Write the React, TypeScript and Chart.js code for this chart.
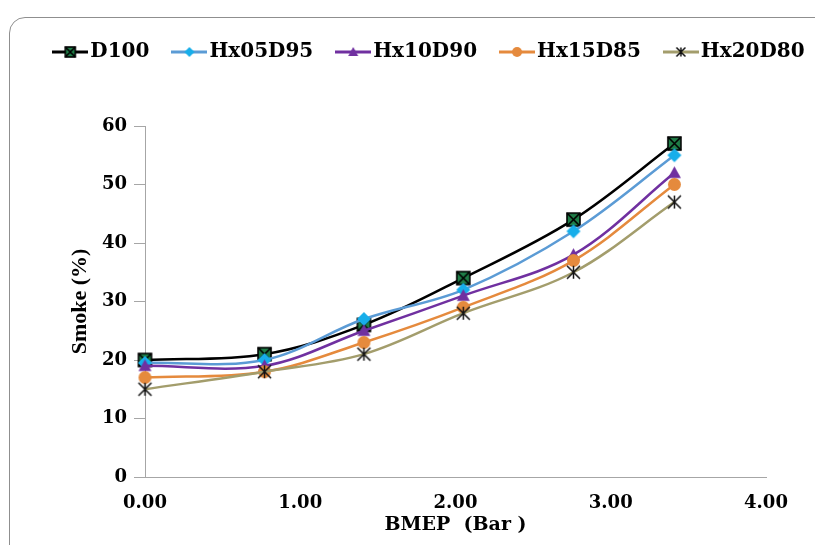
import React, { useEffect, useRef } from "react";
import { Chart, registerables } from "chart.js";

Chart.register(...registerables);

// ---- data ----
const bmep = [0, 0.77, 1.41, 2.05, 2.76, 3.41];
const d100 = [20, 21, 26, 34, 44, 57];
const hx05d95 = [19.5, 20, 27, 32, 42, 55];
const hx10d90 = [19, 19, 25, 31, 38, 52];
const hx15d85 = [17, 18, 23, 29, 37, 50];
const hx20d80 = [15, 18, 21, 28, 35, 47];
const seriesNames = ["D100", "Hx05D95", "Hx10D90", "Hx15D85", "Hx20D80"];
const xTickValues = [0, 1, 2, 3, 4];
const yTickValues = [0, 10, 20, 30, 40, 50, 60];
const xTitle = "BMEP  (Bar )";
const yTitle = "Smoke (%)";

const seriesValues = [d100, hx05d95, hx10d90, hx15d85, hx20d80];
const lineColors = ["#000000", "#5b9bd5", "#7030a0", "#e58a3d", "#a39d6c"];
const markerKinds = ["squareX", "diamond", "triangle", "circle", "star"];

const SERIF = '"DejaVu Serif", serif';
const AXIS_GRAY = "#a6a6a6";

function drawMarker(ctx: CanvasRenderingContext2D, kind: string, cx: number, cy: number, s: number) {
  const h = s / 2;
  ctx.save();
  switch (kind) {
    case "squareX":
      ctx.fillStyle = "#1f7d47";
      ctx.fillRect(cx - h, cy - h, s, s);
      ctx.strokeStyle = "#000";
      ctx.lineWidth = 1.6;
      ctx.strokeRect(cx - h, cy - h, s, s);
      ctx.beginPath();
      ctx.moveTo(cx - h, cy - h);
      ctx.lineTo(cx + h, cy + h);
      ctx.moveTo(cx + h, cy - h);
      ctx.lineTo(cx - h, cy + h);
      ctx.stroke();
      break;
    case "diamond":
      ctx.fillStyle = "#17aeea";
      ctx.beginPath();
      ctx.moveTo(cx, cy - h);
      ctx.lineTo(cx + h, cy);
      ctx.lineTo(cx, cy + h);
      ctx.lineTo(cx - h, cy);
      ctx.closePath();
      ctx.fill();
      break;
    case "triangle":
      ctx.fillStyle = "#7030a0";
      ctx.beginPath();
      ctx.moveTo(cx, cy - h);
      ctx.lineTo(cx + h, cy + h * 0.8);
      ctx.lineTo(cx - h, cy + h * 0.8);
      ctx.closePath();
      ctx.fill();
      break;
    case "circle":
      ctx.fillStyle = "#e58a3d";
      ctx.beginPath();
      ctx.arc(cx, cy, h, 0, Math.PI * 2);
      ctx.fill();
      break;
    case "star":
      ctx.strokeStyle = "#111";
      ctx.lineWidth = 1.5;
      ctx.beginPath();
      ctx.moveTo(cx - h, cy - h);
      ctx.lineTo(cx + h, cy + h);
      ctx.moveTo(cx + h, cy - h);
      ctx.lineTo(cx - h, cy + h);
      ctx.moveTo(cx, cy - h);
      ctx.lineTo(cx, cy + h);
      ctx.stroke();
      break;
  }
  ctx.restore();
}

function makeMarker(kind: string, s: number): HTMLCanvasElement {
  const c = document.createElement("canvas");
  const size = Math.ceil(s + 4);
  c.width = size;
  c.height = size;
  const ctx = c.getContext("2d")!;
  drawMarker(ctx, kind, size / 2, size / 2, s);
  return c;
}

function makeLegendIcon(kind: string, color: string): HTMLCanvasElement {
  const c = document.createElement("canvas");
  c.width = 36;
  c.height = 20;
  const ctx = c.getContext("2d")!;
  ctx.strokeStyle = color;
  ctx.lineWidth = 3;
  ctx.beginPath();
  ctx.moveTo(0, 10);
  ctx.lineTo(36, 10);
  ctx.stroke();
  drawMarker(ctx, kind, 18, 10, kind === "star" ? 9 : 10);
  return c;
}

export default function App() {
  const ref = useRef<HTMLCanvasElement | null>(null);

  useEffect(() => {
    if (!ref.current) return;
    const markers = markerKinds.map((k) => makeMarker(k, k === "diamond" ? 14 : 13));
    const icons = markerKinds.map((k, i) => makeLegendIcon(k, lineColors[i]));

    const legendSpace = {
      id: "legendSpace",
      beforeLayout(chart: any) {
        const lg = chart.legend;
        if (lg && !lg.__patched) {
          const origFit = lg.fit;
          lg.fit = function () {
            const mw = this.maxWidth;
            this.maxWidth = 3000;
            origFit.call(this);
            this.maxWidth = mw;
            this.width = mw;
            this.height = 114;
          };
          const origDraw = lg.draw;
          lg.draw = function () {
            const l = this.left;
            const r = this.right;
            this.left = l - 100;
            this.right = r + 100;
            origDraw.call(this);
            this.left = l;
            this.right = r;
          };
          lg.__patched = true;
        }
      },
    };

    const chart = new Chart(ref.current, {
      type: "line",
      data: {
        datasets: seriesNames.map((name, i) => ({
          label: name,
          data: bmep.map((x, j) => ({ x, y: seriesValues[i][j] })),
          borderColor: lineColors[i],
          backgroundColor: lineColors[i],
          borderWidth: 2.5,
          tension: 0.35,
          pointStyle: markers[i] as any,
          pointRadius: 7,
          order: seriesNames.length - i,
          clip: false as any,
        })),
      },
      options: {
        animation: false,
        responsive: false,
        devicePixelRatio: 1,
        layout: { padding: { top: 12, left: 50, right: 0, bottom: 0 } },
        plugins: {
          tooltip: { enabled: false },
          legend: {
            position: "top",
            labels: {
              usePointStyle: true,
              pointStyleWidth: 20,
              padding: 30,
              color: "#000",
              font: { family: SERIF, weight: "bold", size: 20 },
              generateLabels: () =>
                seriesNames.map((name, i) => ({
                  text: name,
                  pointStyle: icons[i] as any,
                  fillStyle: lineColors[i],
                  strokeStyle: lineColors[i],
                  lineWidth: 0,
                  hidden: false,
                  datasetIndex: i,
                })),
            },
          },
        },
        scales: {
          x: {
            type: "linear",
            min: 0,
            max: 4,
            afterBuildTicks: (s: any) => {
              s.ticks = xTickValues.map((v) => ({ value: v }));
            },
            ticks: {
              color: "#000",
              font: { family: SERIF, weight: "bold", size: 18 },
              padding: 16,
              callback: (v: any) => Number(v).toFixed(2),
            },
            grid: { drawOnChartArea: false, drawTicks: false, color: AXIS_GRAY },
            border: { display: true, color: AXIS_GRAY, width: 1 },
            title: {
              display: true,
              text: xTitle,
              color: "#000",
              font: { family: SERIF, weight: "bold", size: 19 },
              padding: { top: 0, bottom: 9 },
            },
            afterFit: (s: any) => {
              s.height = 68;
            },
          },
          y: {
            type: "linear",
            position: "left",
            min: 0,
            max: 60,
            afterBuildTicks: (s: any) => {
              s.ticks = yTickValues.map((v) => ({ value: v }));
            },
            ticks: {
              color: "#000",
              font: { family: SERIF, weight: "bold", size: 18 },
              padding: 7,
            },
            grid: { drawOnChartArea: false, drawTicks: true, tickLength: 11, color: AXIS_GRAY },
            border: { display: true, color: AXIS_GRAY, width: 1 },
            title: {
              display: true,
              text: yTitle,
              color: "#000",
              font: { family: '"Liberation Serif", serif', weight: "bold", size: 22 },
              padding: { top: 17, bottom: 0 },
            },
            afterFit: (s: any) => {
              s.width = 95;
            },
          },
          yRight: {
            type: "linear",
            position: "right",
            display: true,
            grid: { display: false, drawTicks: false },
            border: { display: false },
            ticks: { display: false },
            afterFit: (s: any) => {
              s.width = 49;
            },
          },
        },
      } as any,
      plugins: [legendSpace],
    });
    return () => chart.destroy();
  }, []);

  return (
    <div
      style={{
        position: "absolute",
        left: 0,
        top: 0,
        width: 815,
        height: 545,
        overflow: "hidden",
        background: "#fff",
      }}
    >
      <div
        style={{
          position: "absolute",
          left: 9,
          top: 17,
          width: 1000,
          height: 700,
          border: "1.5px solid #8f8f8f",
          borderRadius: 16,
          boxSizing: "border-box",
        }}
      />
      <canvas
        ref={ref}
        width={815}
        height={545}
        style={{ position: "absolute", left: 0, top: 0, width: 815, height: 545 }}
      />
    </div>
  );
}
